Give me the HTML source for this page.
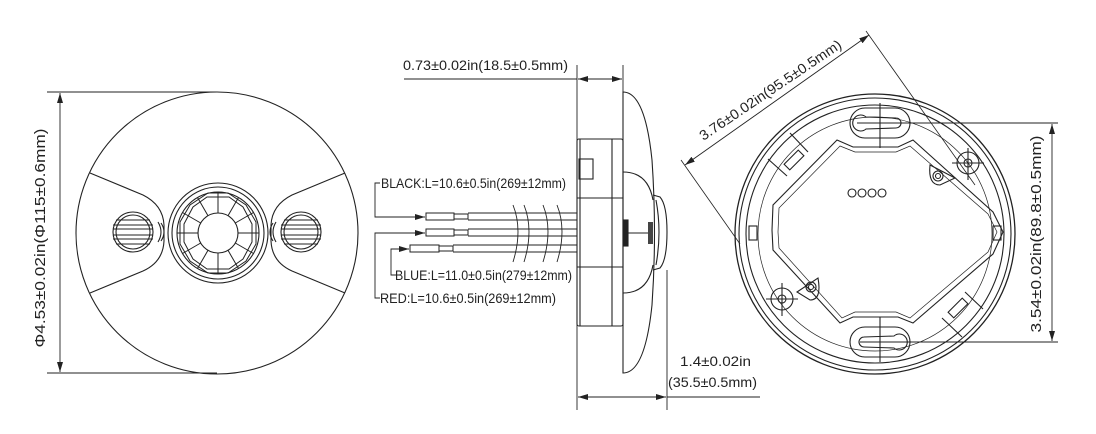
<!DOCTYPE html>
<html><head><meta charset="utf-8"><style>
html,body{margin:0;padding:0;background:#fff;}
svg{display:block;}
text{font-family:"Liberation Sans",Arial,sans-serif;fill:#222;}
</style></head><body>
<svg width="1096" height="434" viewBox="0 0 1096 434" xmlns="http://www.w3.org/2000/svg">
<defs>
<marker id="a" viewBox="0 0 10 6" refX="10" refY="3" markerWidth="10" markerHeight="6" orient="auto-start-reverse" markerUnits="userSpaceOnUse"><path d="M0,0 L10,3 L0,6 z" fill="#222"/></marker>
</defs>
<g fill="none" stroke="#222" stroke-width="1.1">
<!-- LEFT VIEW -->
<circle cx="217" cy="233" r="141"/>
<line x1="47" y1="92" x2="217" y2="92" stroke-width="0.9"/>
<line x1="47" y1="373" x2="217" y2="373" stroke-width="0.9"/>
<line x1="60" y1="93" x2="60" y2="372" stroke-width="0.9" marker-start="url(#a)" marker-end="url(#a)"/>
<path d="M90,173 L143,195 Q163,205 164,225 L164,241 Q163,262 143,271 L90,293"/>
<path d="M345,173 L292,195 Q272,205 271,225 L271,241 Q272,262 292,271 L345,293"/>
<circle cx="218" cy="233" r="50"/>
<circle cx="218" cy="233" r="46"/>
<circle cx="218" cy="233" r="41"/>
<circle cx="218" cy="233" r="20"/>
<g stroke-width="1">
<line x1="238" y1="233" x2="259" y2="233"/><line x1="198" y1="233" x2="177" y2="233"/>
<line x1="228" y1="215.7" x2="238.5" y2="197.5"/><line x1="208" y1="215.7" x2="197.5" y2="197.5"/>
<line x1="228" y1="250.3" x2="238.5" y2="268.5"/><line x1="208" y1="250.3" x2="197.5" y2="268.5"/>
<line x1="235.3" y1="223" x2="253.5" y2="212.5"/><line x1="200.7" y1="223" x2="182.5" y2="212.5"/>
<line x1="235.3" y1="243" x2="253.5" y2="253.5"/><line x1="200.7" y1="243" x2="182.5" y2="253.5"/>
<line x1="218" y1="213" x2="218" y2="192"/><line x1="218" y1="253" x2="218" y2="274"/>
<polygon points="208,193 228,193 246,205 256,222 256,244 246,261 228,273 208,273 190,261 180,244 180,222 190,205"/>
<polygon points="207,197 229,197 243,207 252,224 252,242 243,259 229,269 207,269 193,259 184,242 184,224 193,207"/>
</g>
<g id="spk">
<circle cx="133" cy="232" r="20"/>
<circle cx="133" cy="232" r="17"/>
<line x1="113" y1="225" x2="153" y2="225"/><line x1="113" y1="229" x2="153" y2="229"/>
<line x1="113" y1="235" x2="153" y2="235"/><line x1="113" y1="239" x2="153" y2="239"/>
<line x1="116" y1="220" x2="150" y2="220"/><line x1="116" y1="244" x2="150" y2="244"/>
<path d="M158,222 Q164,232 158,242"/><path d="M161,223 Q167,232 161,241"/>
</g>
<g transform="translate(434,0) scale(-1,1)">
<circle cx="133" cy="232" r="20"/>
<circle cx="133" cy="232" r="17"/>
<line x1="113" y1="225" x2="153" y2="225"/><line x1="113" y1="229" x2="153" y2="229"/>
<line x1="113" y1="235" x2="153" y2="235"/><line x1="113" y1="239" x2="153" y2="239"/>
<line x1="116" y1="220" x2="150" y2="220"/><line x1="116" y1="244" x2="150" y2="244"/>
<path d="M158,222 Q164,232 158,242"/><path d="M161,223 Q167,232 161,241"/>
</g>

<!-- SIDE VIEW -->
<line x1="577" y1="65" x2="577" y2="410" stroke-width="0.9"/>
<line x1="623" y1="65" x2="623" y2="92" stroke-width="0.9"/>
<line x1="404" y1="79" x2="577" y2="79" stroke-width="0.9"/>
<line x1="578" y1="79" x2="622" y2="79" stroke-width="0.9" marker-start="url(#a)" marker-end="url(#a)"/>
<path d="M623,92 Q645,92 652,160 Q657,233 652,305 Q645,373 623,373 Z"/>
<rect x="577" y="139" width="46" height="187" rx="2"/>
<line x1="580" y1="139" x2="580" y2="326"/>
<line x1="612" y1="139" x2="612" y2="326"/>
<line x1="577" y1="198" x2="623" y2="198"/>
<line x1="577" y1="267" x2="623" y2="267"/>
<rect x="579" y="159" width="14" height="20"/>
<path d="M623,172 Q648,172 653,200"/>
<path d="M623,293 Q648,293 653,265"/>
<rect x="624" y="220" width="4" height="26" fill="#222"/>
<line x1="628" y1="233" x2="650" y2="233"/>
<path d="M653,195 L660,197 Q667,205 667,232 Q667,260 660,268 L653,270"/>
<path d="M656,200 Q662,232 656,265"/>
<rect x="648" y="222" width="5" height="22" fill="#444" stroke="none"/>
<g stroke-width="1">
<rect x="426" y="213" width="28" height="7"/><rect x="454" y="214" width="14" height="5"/>
<rect x="426" y="229" width="28" height="7"/><rect x="454" y="230" width="14" height="5"/>
<rect x="410" y="245" width="29" height="7"/><rect x="439" y="246" width="14" height="5"/>
<line x1="468" y1="213" x2="577" y2="213"/><line x1="468" y1="220" x2="577" y2="220"/>
<line x1="468" y1="229" x2="577" y2="229"/><line x1="468" y1="236" x2="577" y2="236"/>
<line x1="453" y1="245" x2="577" y2="245"/><line x1="453" y1="252" x2="577" y2="252"/>
</g>
<g stroke-width="0.9">
<path d="M513,205 Q523,230 513,262"/><path d="M524,205 Q534,230 524,262"/>
<path d="M543,205 Q553,230 543,262"/><path d="M557,205 Q567,230 557,262"/>
</g>
<polyline points="380,183 375,183 375,217 425,217" stroke-width="0.9" marker-end="url(#a)"/>
<polyline points="380,298 375,298 375,233 425,233" stroke-width="0.9" marker-end="url(#a)"/>
<polyline points="396,275 391,275 391,249 409,249" stroke-width="0.9" marker-end="url(#a)"/>
<line x1="667" y1="270" x2="667" y2="410" stroke-width="0.9"/>
<line x1="578" y1="397" x2="666" y2="397" stroke-width="0.9" marker-start="url(#a)" marker-end="url(#a)"/>
<line x1="667" y1="397" x2="760" y2="397" stroke-width="0.9"/>

<!-- RIGHT VIEW -->
<circle cx="875" cy="234" r="140" stroke-width="1.3"/>
<circle cx="875" cy="234" r="136"/>
<circle cx="875" cy="234" r="129"/>
<circle cx="875" cy="234" r="117" stroke-width="0.7"/>
<polygon points="837,140 853,147 898,147 913,140 993,212 1003,232 993,254 913,323 898,317 853,317 840,323 773,250 772,230 773,205" />
<polygon points="840,146 855,152 896,152 910,146 988,214 997,232 988,252 910,318 896,312 855,312 842,318 779,248 778,232 779,208" stroke-width="0.7"/>
<circle cx="852" cy="193" r="4"/><circle cx="862" cy="193" r="4"/><circle cx="872" cy="193" r="4"/><circle cx="882" cy="193" r="4"/>
<!-- keyholes -->
<rect x="850" y="108" width="60" height="30" rx="15"/>
<path d="M866,117 a8,8 0 1 0 0,12 L896,128 a5,5 0 0 0 0,-10 Z"/>
<line x1="880" y1="103" x2="880" y2="148"/><line x1="857" y1="123" x2="900" y2="123"/>
<line x1="880" y1="123" x2="1058" y2="123" stroke-width="0.9"/>
<rect x="850" y="327" width="60" height="30" rx="15"/>
<path d="M894,336 a8,8 0 1 1 0,12 L864,347 a5,5 0 0 1 0,-10 Z"/>
<line x1="880" y1="317" x2="880" y2="362"/><line x1="860" y1="342" x2="903" y2="342"/>
<line x1="880" y1="342" x2="1058" y2="342" stroke-width="0.9"/>
<line x1="1052" y1="124" x2="1052" y2="341" stroke-width="0.9" marker-start="url(#a)" marker-end="url(#a)"/>
<circle cx="968" cy="163" r="11"/><circle cx="968" cy="163" r="4"/>
<line x1="968" y1="148" x2="968" y2="180"/><line x1="952" y1="163" x2="984" y2="163"/>
<circle cx="782" cy="299" r="11"/><circle cx="782" cy="299" r="4"/>
<line x1="782" y1="283" x2="782" y2="316"/><line x1="766" y1="299" x2="798" y2="299"/>
<path d="M930,165 Q928,185 940,185 L955,178 Z"/><circle cx="938" cy="176" r="5"/><circle cx="938" cy="176" r="2.5"/>
<path d="M818,278 Q822,300 810,300 L797,292 Z"/><circle cx="811" cy="287" r="5"/><circle cx="811" cy="287" r="2.5"/>
<rect x="790" y="150" width="8" height="20" transform="rotate(45 794 160)"/>
<rect x="954" y="298" width="8" height="20" transform="rotate(45 958 308)"/>
<rect x="749" y="226" width="8" height="14"/><rect x="993" y="226" width="8" height="14"/>
<line x1="790" y1="133" x2="808" y2="152"/><line x1="768" y1="159" x2="787" y2="176"/>
<line x1="942" y1="318" x2="962" y2="337"/><line x1="965" y1="292" x2="983" y2="309"/>
<line x1="685" y1="165" x2="869" y2="35" stroke-width="0.9" marker-start="url(#a)" marker-end="url(#a)"/>
<line x1="866" y1="31" x2="975" y2="185" stroke-width="0.8"/>
<line x1="681" y1="160" x2="740" y2="244" stroke-width="0.8"/>
</g>
<g font-size="14">
<text x="0" y="0" transform="translate(45,238) rotate(-90)" text-anchor="middle" font-size="15" textLength="219" lengthAdjust="spacingAndGlyphs">Φ4.53±0.02in(Φ115±0.6mm)</text>
<text x="403" y="70" textLength="165" lengthAdjust="spacingAndGlyphs">0.73±0.02in(18.5±0.5mm)</text>
<text x="381" y="188" textLength="185" lengthAdjust="spacingAndGlyphs">BLACK:L=10.6±0.5in(269±12mm)</text>
<text x="395" y="280" textLength="177" lengthAdjust="spacingAndGlyphs">BLUE:L=11.0±0.5in(279±12mm)</text>
<text x="380" y="303" textLength="176" lengthAdjust="spacingAndGlyphs">RED:L=10.6±0.5in(269±12mm)</text>
<text x="680" y="366" textLength="71" lengthAdjust="spacingAndGlyphs">1.4±0.02in</text>
<text x="668" y="387" textLength="89" lengthAdjust="spacingAndGlyphs">(35.5±0.5mm)</text>
<text x="0" y="0" transform="translate(773,94) rotate(-34)" text-anchor="middle" textLength="168" lengthAdjust="spacingAndGlyphs">3.76±0.02in(95.5±0.5mm)</text>
<text x="0" y="0" transform="translate(1041,234) rotate(-90)" text-anchor="middle" font-size="15" textLength="197" lengthAdjust="spacingAndGlyphs">3.54±0.02in(89.8±0.5mm)</text>
</g>
</svg>
</body></html>
